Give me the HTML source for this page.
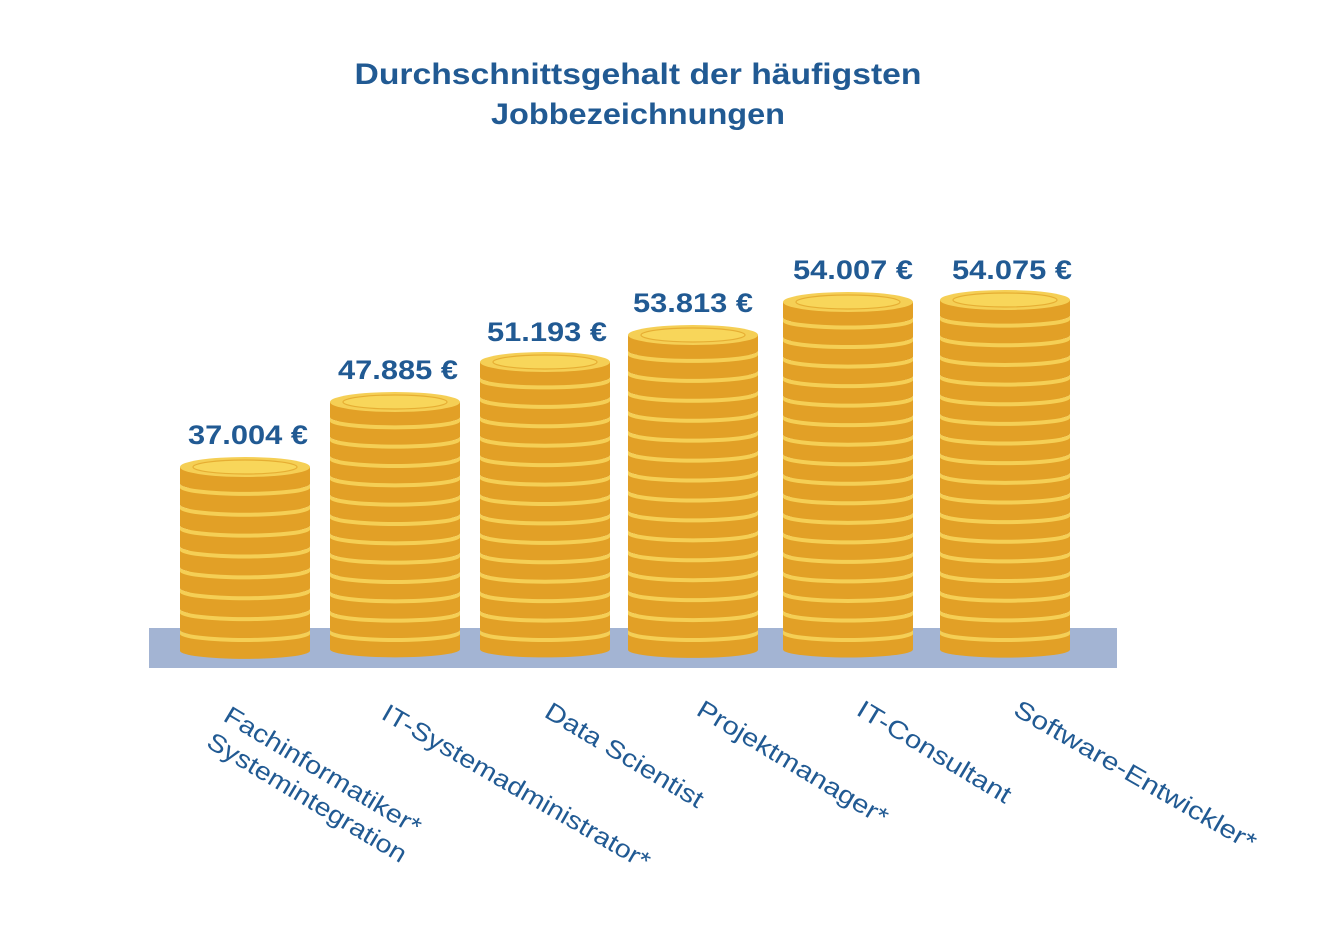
<!DOCTYPE html>
<html><head><meta charset="utf-8"><style>
html,body{margin:0;padding:0;background:#fff;}
svg{display:block;}
text{font-family:"Liberation Sans",sans-serif;fill:#215a93;}
</style></head><body>
<svg width="1335" height="930" viewBox="0 0 1335 930" xmlns="http://www.w3.org/2000/svg">
<text x="638" y="84" text-anchor="middle" font-size="30" font-weight="bold" textLength="567" lengthAdjust="spacingAndGlyphs">Durchschnittsgehalt der häufigsten</text>
<text x="638" y="124" text-anchor="middle" font-size="30" font-weight="bold" textLength="294" lengthAdjust="spacingAndGlyphs">Jobbezeichnungen</text>
<rect x="149" y="628" width="968" height="40" fill="#a3b4d3"/>
<g id="stacks"></g>
<g font-size="27" font-weight="bold" text-anchor="middle">
<text x="248" y="444" textLength="120" lengthAdjust="spacingAndGlyphs">37.004 €</text>
<text x="398" y="379" textLength="120" lengthAdjust="spacingAndGlyphs">47.885 €</text>
<text x="547" y="341" textLength="120" lengthAdjust="spacingAndGlyphs">51.193 €</text>
<text x="693" y="312" textLength="120" lengthAdjust="spacingAndGlyphs">53.813 €</text>
<text x="853" y="279" textLength="120" lengthAdjust="spacingAndGlyphs">54.007 €</text>
<text x="1012" y="279" textLength="120" lengthAdjust="spacingAndGlyphs">54.075 €</text>
</g>
<g font-size="25">
<text transform="translate(222,720) rotate(31)" textLength="225" lengthAdjust="spacingAndGlyphs">Fachinformatiker*</text>
<text transform="translate(205,746) rotate(31)" textLength="228" lengthAdjust="spacingAndGlyphs">Systemintegration</text>
<text transform="translate(380,718) rotate(30)" textLength="305" lengthAdjust="spacingAndGlyphs">IT-Systemadministrator*</text>
<text transform="translate(543,716) rotate(31)" textLength="180" lengthAdjust="spacingAndGlyphs">Data Scientist</text>
<text transform="translate(695,714) rotate(31)" textLength="218" lengthAdjust="spacingAndGlyphs">Projektmanager*</text>
<text transform="translate(855,714) rotate(31)" textLength="175" lengthAdjust="spacingAndGlyphs">IT-Consultant</text>
<text transform="translate(1012,714) rotate(30)" textLength="275" lengthAdjust="spacingAndGlyphs">Software-Entwickler*</text>
</g>
</svg>
<script>
(function(){
var ns="http://www.w3.org/2000/svg",g=document.getElementById("stacks");
var st=[[245,467],[395,402],[545,362],[693,335],[848,302],[1005,300]];
function el(n,a){var e=document.createElementNS(ns,n);for(var k in a)e.setAttribute(k,a[k]);g.appendChild(e);return e;}
st.forEach(function(s){
 var cx=s[0],top=s[1],bot=634,rx=65,ry=8;
 var n=Math.round((bot-top)/20),p=(bot-top)/n,th=p-4;
 for(var i=n;i>=0;i--){
  var y=bot-i*p;
  el("path",{d:"M"+(cx-rx)+","+y+" L"+(cx-rx)+","+(y+th)+" A"+rx+","+ry+" 0 0 0 "+(cx+rx)+","+(y+th)+" L"+(cx+rx)+","+y+" Z",fill:"#e2a026"});
  if(i==n){el("ellipse",{cx:cx,cy:y,rx:rx,ry:ry+2,fill:"#f5cf55"});el("ellipse",{cx:cx,cy:y,rx:52,ry:7,fill:"#f8d65a",stroke:"#e6ae33","stroke-width":1.2});}
  else {el("path",{d:"M"+(cx-rx)+","+y+" A"+rx+","+ry+" 0 0 0 "+(cx+rx)+","+y+" L"+(cx+rx)+","+(y-4)+" A"+rx+","+ry+" 0 0 1 "+(cx-rx)+","+(y-4)+" Z",fill:"#f5cf55"});}
 }
});
})();
</script>
</body></html>
